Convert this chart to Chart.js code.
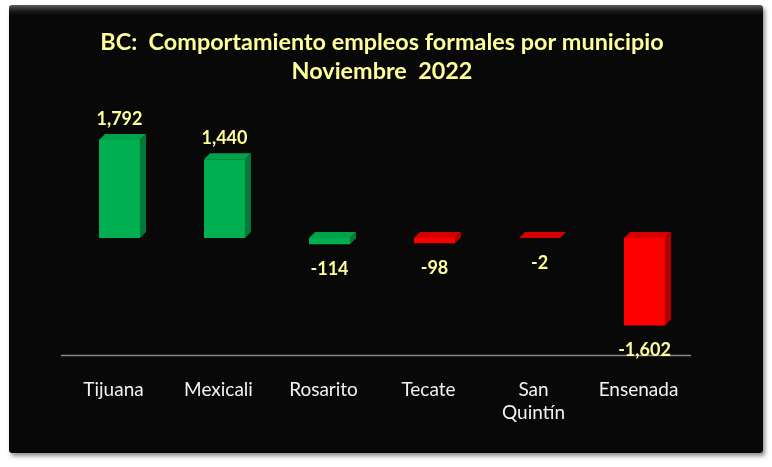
<!DOCTYPE html>
<html>
<head>
<meta charset="utf-8">
<script src="https://cdn.jsdelivr.net/npm/chart.js@4.4.0/dist/chart.umd.min.js"></script>
<style>
  html, body { margin: 0; padding: 0; background: #ffffff; }
  body { width: 772px; height: 467px; position: relative; overflow: hidden; }
  .frame {
    position: absolute; left: 9px; top: 5px; width: 754px; height: 448px;
    background: linear-gradient(to bottom, #5a5a5a 0px, #1a1a1a 6px, #080808 10px, #080808 100%);
    border-radius: 3px;
    box-shadow: 2px 3px 4px rgba(0, 0, 0, 0.45);
  }
  .wrap { position: absolute; left: 0; top: 0; width: 772px; height: 467px; }
  canvas { display: block; }
</style>
</head>
<body>
<div class="frame"></div>
<div class="wrap"><canvas id="chart" width="772" height="467"></canvas></div>
<script>
// municipios and monthly change in formal jobs
let labels = ["Tijuana", "Mexicali", "Rosarito", "Tecate", ["San", "Quintín"], "Ensenada"];
let values = [1792, 1440, -114, -98, -2, -1602];
let barColors = ["#00b050", "#00b050", "#00b050", "#ff0000", "#ff0000", "#ff0000"];
let topColors = ["#00a24a", "#00a24a", "#00a24a", "#d40000", "#d40000", "#d40000"];
let sideColors = ["#007a38", "#007a38", "#007a38", "#b00000", "#b00000", "#b00000"];
let yMin = -2150;
let yMax = 2000;

const depth = 6;
const yellow = "#ffff99";
const fontFamily = "Lato, 'Open Sans', sans-serif";

// side and top faces of each bar, plus the value labels
const bars3d = {
  id: "bars3d",
  beforeDatasetsDraw(chart) {
    const ctx = chart.ctx;
    const area = chart.chartArea;
    ctx.save();
    ctx.strokeStyle = "#878787";
    ctx.lineWidth = 1.5;
    ctx.beginPath();
    ctx.moveTo(area.left - depth, area.bottom);
    ctx.lineTo(area.right - depth, area.bottom);
    ctx.stroke();
    ctx.restore();
  },
  afterDatasetsDraw(chart) {
    const ctx = chart.ctx;
    const meta = chart.getDatasetMeta(0);
    ctx.save();
    meta.data.forEach((bar, i) => {
      const w = bar.width;
      const left = bar.x - w / 2;
      const right = bar.x + w / 2;
      const top = Math.min(bar.y, bar.base);
      const bottom = Math.max(bar.y, bar.base);

      ctx.fillStyle = topColors[i];
      ctx.beginPath();
      ctx.moveTo(left, top);
      ctx.lineTo(left + depth, top - depth);
      ctx.lineTo(right + depth, top - depth);
      ctx.lineTo(right, top);
      ctx.closePath();
      ctx.fill();

      ctx.fillStyle = sideColors[i];
      ctx.beginPath();
      ctx.moveTo(right, top);
      ctx.lineTo(right + depth, top - depth);
      ctx.lineTo(right + depth, bottom - depth);
      ctx.lineTo(right, bottom);
      ctx.closePath();
      ctx.fill();

      // value label
      const v = values[i];
      ctx.fillStyle = yellow;
      ctx.font = "bold 18px " + fontFamily;
      ctx.textAlign = "center";
      ctx.textBaseline = "middle";
      const ly = v >= 0 ? bar.y - 21 : bar.y + 25;
      ctx.fillText(v.toLocaleString("en-US"), bar.x, ly);
    });
    ctx.restore();
  },
};

new Chart(document.getElementById("chart"), {
  type: "bar",
  data: {
    labels: labels,
    datasets: [
      {
        data: values,
        backgroundColor: barColors,
        borderWidth: 0,
        barPercentage: 0.39,
        categoryPercentage: 1,
      },
    ],
  },
  options: {
    responsive: false,
    animation: false,
    devicePixelRatio: 1,
    layout: {
      padding: { left: 67, right: 75, top: 28, bottom: 20 },
    },
    plugins: {
      legend: { display: false },
      tooltip: { enabled: false },
      title: {
        display: true,
        text: ["BC:  Comportamiento empleos formales por municipio", "Noviembre  2022"],
        color: yellow,
        font: { family: fontFamily, size: 23.4, weight: "bold", lineHeight: 1.25 },
        padding: { top: 0, bottom: 42 },
      },
    },
    scales: {
      x: {
        grid: { display: false, drawTicks: false },
        border: { display: false },
        ticks: {
          color: "#f2f2f2",
          font: { family: fontFamily, size: 19, lineHeight: 1.25 },
          padding: 22,
          labelOffset: -depth,
          maxRotation: 0,
          autoSkip: false,
        },
      },
      y: {
        display: false,
        min: yMin,
        max: yMax,
      },
    },
  },
  plugins: [bars3d],
});
</script>
</body>
</html>
